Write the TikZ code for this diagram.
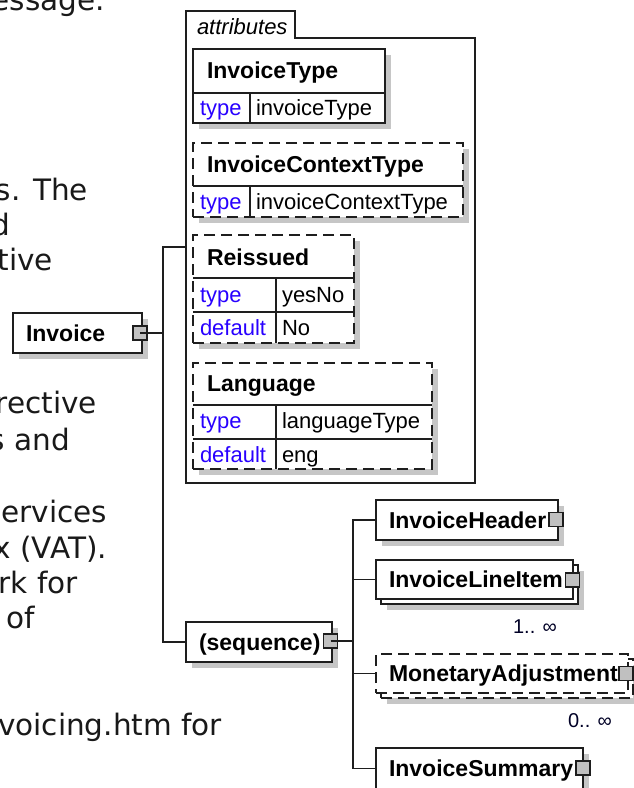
\documentclass[tikz,border=0pt]{standalone}
\usepackage{fontspec}
\setmainfont{Liberation Sans}
\newfontfamily\pagefont{DejaVu Sans}
\usetikzlibrary{shadows}
\definecolor{shadowgray}{RGB}{198,198,198}
\definecolor{keyblue}{RGB}{40,0,255}
\definecolor{btngray}{RGB}{192,192,192}
\definecolor{inkgray}{RGB}{30,30,30}
\tikzset{
  every node/.style={inner sep=0pt, outer sep=0pt},
  elem/.style={draw=inkgray, fill=white, line width=1.5pt, rectangle, anchor=north west,
     drop shadow={shadow xshift=6pt, shadow yshift=-6pt, fill=shadowgray, opacity=1}},
  optelem/.style={elem, dash pattern=on 11pt off 6pt},
  plainelem/.style={draw=inkgray, fill=white, line width=1.5pt, rectangle, anchor=north west},
  plainopt/.style={plainelem, dash pattern=on 11pt off 6pt},
  sepline/.style={draw=inkgray, line width=1.5pt},
  conn/.style={draw=inkgray, line width=1.5pt},
  framebox/.style={draw=inkgray, line width=1.4pt},
  btn/.style={draw=inkgray, fill=btngray, line width=1.2pt, rectangle, minimum size=14pt},
  ename/.style={anchor=base west, text=black, font=\fontsize{23}{23}\selectfont\bfseries},
  akey/.style={anchor=base west, text=keyblue, font=\fontsize{22}{22}\selectfont},
  aval/.style={anchor=base west, text=black, font=\fontsize{22}{22}\selectfont},
  mult/.style={anchor=base east, text=black!85!blue, font=\fontsize{20}{20}\selectfont},
  pagetext/.style={anchor=base east, text=black!90, font=\pagefont\fontsize{29.5}{29.5}\selectfont},
  tabtext/.style={anchor=base west, text=black, font=\fontsize{22}{22}\selectfont\itshape}
}
\begin{document}
\begin{tikzpicture}[x=1pt,y=-1pt]
\clip (0,0) rectangle (634,788);
\fill[white] (0,0) rectangle (634,788);

% background page text (cut off at the left)
\node[pagetext] (p1) at (105,10) {essage.};
\node[pagetext] (p2) at (88,200) {s. The};
\node[pagetext] (p3) at (10,235) {d};
\node[pagetext] (p4) at (53,270) {tive};
\node[pagetext] (p5) at (97,413) {rective};
\node[pagetext] (p6) at (70,450) {s and};
\node[pagetext] (p7) at (107,522) {services};
\node[pagetext] (p8) at (107,558) {x (VAT).};
\node[pagetext] (p9) at (78,593) {rk for};
\node[pagetext] (p10) at (35,628) {of};
\node[pagetext] (p11) at (222,735) {voicing.htm for};

% attributes frame
\draw[framebox] (186,483) -- (186,11) -- (295,11) -- (295,38) -- (475,38) -- (475,483) -- cycle;
\node[tabtext] (tab) at (197,34) {attributes};

% InvoiceType
\node[elem, minimum width=192pt, minimum height=74pt] (atype) at (193,49) {};
\draw[sepline] (193,93) -- (385,93);
\draw[sepline] (250,93) -- (250,123);
\node[ename] (atypen) at (207,78) {InvoiceType};
\node[akey] (atypek) at (200,115) {type};
\node[aval] (atypev) at (256,115) {invoiceType};

% InvoiceContextType
\node[optelem, minimum width=270pt, minimum height=74pt] (actx) at (193,143) {};
\draw[sepline] (193,186) -- (463,186);
\draw[sepline] (250,186) -- (250,217);
\node[ename] (actxn) at (207,172) {InvoiceContextType};
\node[akey] (actxk) at (200,209) {type};
\node[aval] (actxv) at (256,209) {invoiceContextType};

% Reissued
\node[optelem, minimum width=161pt, minimum height=108pt] (arei) at (193,235) {};
\draw[sepline] (193,278) -- (354,278);
\draw[sepline] (193,312) -- (354,312);
\draw[sepline] (276,278) -- (276,343);
\node[ename] (arein) at (207,265) {Reissued};
\node[akey] (areik1) at (200,302) {type};
\node[aval] (areiv1) at (282,302) {yesNo};
\node[akey] (areik2) at (200,335) {default};
\node[aval] (areiv2) at (282,335) {No};

% Language
\node[optelem, minimum width=239pt, minimum height=106pt] (alang) at (193,363) {};
\draw[sepline] (193,405) -- (432,405);
\draw[sepline] (193,439) -- (432,439);
\draw[sepline] (276,405) -- (276,469);
\node[ename] (alangn) at (207,391) {Language};
\node[akey] (alangk1) at (200,428) {type};
\node[aval] (alangv1) at (282,428) {languageType};
\node[akey] (alangk2) at (200,462) {default};
\node[aval] (alangv2) at (282,462) {eng};

% Invoice
\node[elem, minimum width=129pt, minimum height=40pt] (invoice) at (13,313) {};
\node[ename] (invoicen) at (26,341) {Invoice};
\node[btn] (invbtn) at (140,333) {};

% sequence
\node[elem, minimum width=146pt, minimum height=40pt] (seq) at (186,622) {};
\node[ename] (seqn) at (199,650) {(sequence)};
\node[btn] (seqbtn) at (330.5,641) {};

% InvoiceHeader
\node[elem, minimum width=182pt, minimum height=40pt] (hdr) at (376,500) {};
\node[ename] (hdrn) at (389,528) {InvoiceHeader};
\node[btn] (hdrbtn) at (556,519.5) {};

% InvoiceLineItem (repeating)
\node[elem, minimum width=197pt, minimum height=39pt] (lineback) at (381,565) {};
\node[plainelem, minimum width=197pt, minimum height=39pt] (line) at (376,560) {};
\node[ename] (linen) at (389,587.5) {InvoiceLineItem};
\node[btn] (linebtn) at (572.5,580) {};
\node[mult] (linem) at (557,633) {1.. ∞};

% MonetaryAdjustment (optional, repeating)
\node[optelem, minimum width=252pt, minimum height=39pt] (monback) at (381,659) {};
\node[plainopt, minimum width=252pt, minimum height=39pt] (mon) at (376,654) {};
\node[ename] (monn) at (389,681.5) {MonetaryAdjustment};
\node[btn] (monbtn) at (626,673.5) {};
\node[mult] (monm) at (612,727) {0.. ∞};

% InvoiceSummary
\node[elem, minimum width=207pt, minimum height=41pt] (sum) at (376,748) {};
\node[ename] (sumn) at (389,776) {InvoiceSummary};
\node[btn] (sumbtn) at (583,768) {};

% connectors
\coordinate (attrin) at (186,247);
\coordinate (j1) at (163,333);
\coordinate (j2) at (353,641);
\draw[conn] (invbtn.center) -- (j1);
\draw[conn] (attrin) -| (j1) |- (seq.west);
\draw[conn] (seqbtn.center) -- (j2);
\draw[conn] (hdr.west) -| (j2);
\draw[conn] (line.west) -| (j2);
\draw[conn] (mon.west) -| (j2);
\draw[conn] (sum.west) -| (j2);
\end{tikzpicture}
\end{document}
